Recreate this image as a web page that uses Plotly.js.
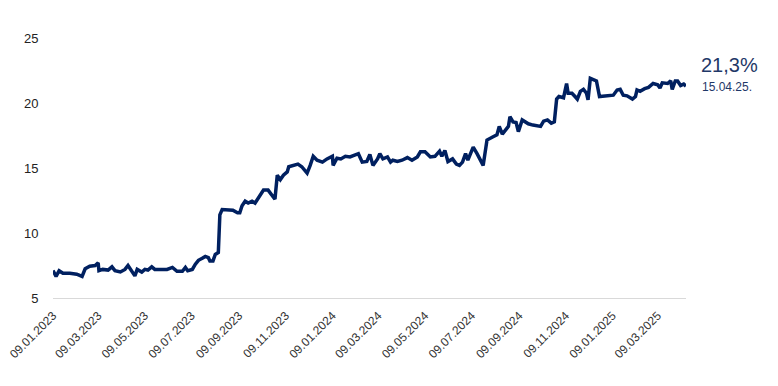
<!DOCTYPE html>
<html>
<head>
<meta charset="utf-8">
<script src="https://cdn.plot.ly/plotly-3.0.1.min.js"></script>
<style>html,body{margin:0;padding:0;background:#fff;}#chart{width:778px;height:386px;}</style>
</head>
<body>
<div id="chart"></div>
<script>
const dates = [
"2023-01-09","2023-01-13","2023-01-17","2023-01-22","2023-01-31","2023-02-09","2023-02-16","2023-02-20","2023-02-26","2023-03-05",
"2023-03-09","2023-03-10","2023-03-15","2023-03-22","2023-03-27","2023-03-31","2023-04-07","2023-04-13","2023-04-17","2023-04-22",
"2023-04-26","2023-04-29","2023-05-05","2023-05-09","2023-05-13","2023-05-18","2023-05-22","2023-05-29","2023-06-07","2023-06-14",
"2023-06-20","2023-06-27","2023-07-01","2023-07-04","2023-07-10","2023-07-14","2023-07-18","2023-07-23","2023-07-27","2023-07-31",
"2023-08-02","2023-08-06","2023-08-09","2023-08-13","2023-08-15","2023-08-18","2023-08-24","2023-09-01","2023-09-07","2023-09-10",
"2023-09-13","2023-09-17","2023-09-21","2023-09-26","2023-09-30","2023-10-04","2023-10-11","2023-10-17","2023-10-22","2023-10-26",
"2023-10-29","2023-11-02","2023-11-06","2023-11-11","2023-11-13","2023-11-19","2023-11-25","2023-11-30","2023-12-07","2023-12-11",
"2023-12-15","2023-12-20","2023-12-27","2024-01-02","2024-01-09","2024-01-10","2024-01-15","2024-01-20","2024-01-26","2024-02-01",
"2024-02-08","2024-02-12","2024-02-17","2024-02-23","2024-02-27","2024-03-02","2024-03-08","2024-03-11","2024-03-15","2024-03-21",
"2024-03-25","2024-03-28","2024-04-03","2024-04-09","2024-04-16","2024-04-22","2024-04-29","2024-05-03","2024-05-09","2024-05-16",
"2024-05-22","2024-05-28","2024-05-31","2024-06-04","2024-06-08","2024-06-14","2024-06-19","2024-06-23","2024-06-27","2024-07-01",
"2024-07-04","2024-07-11","2024-07-16","2024-07-20","2024-07-24","2024-07-29","2024-08-02","2024-08-06","2024-08-11","2024-08-14",
"2024-08-18","2024-08-22","2024-08-26","2024-08-28","2024-09-01","2024-09-05","2024-09-08","2024-09-13","2024-09-17","2024-09-21",
"2024-09-27","2024-10-07","2024-10-11","2024-10-16","2024-10-21","2024-10-25","2024-10-28","2024-10-31","2024-11-06","2024-11-10",
"2024-11-12","2024-11-17","2024-11-21","2024-11-24","2024-11-28","2024-12-02","2024-12-06","2024-12-08","2024-12-11","2024-12-15",
"2024-12-19","2024-12-23","2025-01-02","2025-01-10","2025-01-15","2025-01-19","2025-01-23","2025-01-28","2025-02-04","2025-02-08",
"2025-02-10","2025-02-14","2025-02-20","2025-02-25","2025-03-03","2025-03-09","2025-03-12","2025-03-15","2025-03-22","2025-03-26",
"2025-03-28","2025-04-01","2025-04-04","2025-04-08","2025-04-12","2025-04-15"
];
const values = [
7.12,6.66,7.1,6.9,6.9,6.83,6.66,7.25,7.45,7.5,
7.7,7.1,7.2,7.15,7.4,7.1,7.0,7.2,7.5,7.1,
6.7,7.2,7.0,7.2,7.15,7.4,7.2,7.2,7.2,7.35,
7.05,7.05,7.35,7.1,7.2,7.6,7.9,8.05,8.2,8.1,
7.85,7.85,8.35,8.5,11.4,11.8,11.75,11.75,11.55,11.55,
12.1,12.45,12.3,12.45,12.3,12.7,13.3,13.3,12.9,12.6,
14.45,14.1,14.45,14.7,15.1,15.2,15.3,15.1,14.6,15.2,
15.9,15.6,15.45,15.7,15.9,15.2,15.75,15.7,15.9,15.85,
16.05,16.1,15.45,15.5,16.05,15.2,15.7,16.1,15.7,15.85,
15.45,15.6,15.5,15.6,15.8,15.6,15.85,16.25,16.25,15.85,
15.9,16.3,15.9,16.35,15.5,15.7,15.3,15.2,15.45,16.1,
15.6,16.6,16.1,15.6,15.2,17.15,17.3,17.4,17.55,18.2,
17.6,17.95,18.2,18.95,18.55,18.5,17.8,18.7,18.55,18.4,
18.3,18.2,18.6,18.7,18.45,18.55,20.3,20.5,20.4,21.5,
20.75,20.75,20.5,20.3,20.9,21.05,20.75,20.25,21.9,21.8,
21.7,20.5,20.55,20.6,21.0,21.05,20.6,20.55,20.3,20.5,
21.0,20.9,21.1,21.2,21.5,21.4,21.15,21.55,21.5,21.7,
21.05,21.7,21.7,21.35,21.45,21.3
];
const tickDates = ["2023-01-09","2023-03-09","2023-05-09","2023-07-09","2023-09-09","2023-11-09","2024-01-09","2024-03-09","2024-05-09","2024-07-09","2024-09-09","2024-11-09","2025-01-09","2025-03-09"];
const tickLabels = ["09.01.2023","09.03.2023","09.05.2023","09.07.2023","09.09.2023","09.11.2023","09.01.2024","09.03.2024","09.05.2024","09.07.2024","09.09.2024","09.11.2024","09.01.2025","09.03.2025"];
const yTicks = [5,10,15,20,25];
const lastValueLabel = "21,3%";
const lastDateLabel = "15.04.25.";

const trace = {
  x: dates, y: values, type: 'scatter', mode: 'lines',
  line: {color: '#002060', width: 3.5}, hoverinfo: 'skip'
};
const layout = {
  width: 778, height: 386,
  margin: {l: 53, r: 92, t: 38, b: 88},
  paper_bgcolor: '#ffffff', plot_bgcolor: '#ffffff',
  showlegend: false,
  font: {family: 'Liberation Sans, Arial, sans-serif', color: '#222'},
  xaxis: {
    type: 'date', range: [dates[0], dates[dates.length-1]],
    tickvals: tickDates, ticktext: tickLabels, tickangle: -45,
    tickfont: {size: 12, color: '#333333'},
    showgrid: false, zeroline: false,
    showline: true, linecolor: '#d9d9d9', linewidth: 1,
    ticks: 'outside', ticklen: 5, tickcolor: 'rgba(0,0,0,0)'
  },
  yaxis: {
    range: [5, 25], tickvals: yTicks,
    tickfont: {size: 13, color: '#222'},
    showgrid: false, zeroline: false, showline: false,
    ticks: 'outside', ticklen: 11, tickcolor: 'rgba(0,0,0,0)'
  },
  annotations: [
    {xref: 'paper', yref: 'paper', x: 1.02, y: 0.896, xanchor: 'left', yanchor: 'middle',
     text: lastValueLabel, showarrow: false, font: {size: 20, color: '#1f3868'}},
    {xref: 'paper', yref: 'paper', x: 1.022, y: 0.812, xanchor: 'left', yanchor: 'middle',
     text: lastDateLabel, showarrow: false, font: {size: 12, color: '#1f3868'}}
  ]
};
Plotly.newPlot('chart', [trace], layout, {displayModeBar: false, staticPlot: true});
</script>
</body>
</html>
